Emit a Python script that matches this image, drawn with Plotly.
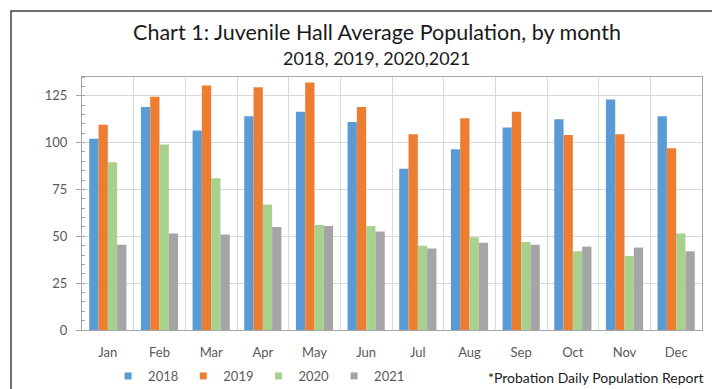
import plotly.graph_objects as go

months = ["Jan", "Feb", "Mar", "Apr", "May", "Jun", "Jul", "Aug", "Sep", "Oct", "Nov", "Dec"]
v2018 = [102, 119, 106.5, 114, 116.5, 111, 86, 96.5, 108, 112.5, 123, 114]
v2019 = [109.5, 124.5, 130.5, 129.5, 132, 119, 104.5, 113, 116.5, 104, 104.5, 97]
v2020 = [89.5, 99, 81, 67, 56, 55.5, 45, 49.5, 47, 42, 39.5, 51.5]
v2021 = [45.5, 51.5, 51, 55, 55.5, 52.5, 43.5, 46.5, 45.5, 44.5, 44, 42]
series = [("2018", v2018, "#5B9BD5"), ("2019", v2019, "#ED7D31"),
          ("2020", v2020, "#A9D18E"), ("2021", v2021, "#A5A5A5")]
yticks = [0, 25, 50, 75, 100, 125]

FONT = "Lato, 'Open Sans', sans-serif"
fig = go.Figure()
for name, vals, col in series:
    fig.add_trace(go.Bar(x=months, y=vals, name=name, marker_color=col,
                         marker_line_width=0, showlegend=False))
# legend entries with small square swatches
for name, vals, col in series:
    fig.add_trace(go.Scatter(x=[None], y=[None], mode="markers", name=name,
                             marker=dict(symbol="square", size=7, color=col)))

fig.update_layout(
    width=712, height=389,
    margin=dict(l=82, r=10, t=77, b=59, autoexpand=False),
    paper_bgcolor="white", plot_bgcolor="white",
    barmode="group", bargap=0.28, bargroupgap=0,
    font=dict(family=FONT, color="#595959", size=13),
    title=dict(
        text="Chart 1: Juvenile Hall Average Population, by month",
        x=377 / 712, xref="container", xanchor="center",
        y=1 - 32 / 389, yref="container", yanchor="middle",
        font=dict(family=FONT, size=21.5, color="#1a1a1a")),
    legend=dict(orientation="h", x=30 / 712, xanchor="left",
                y=1 - 376 / 389, yref="container", yanchor="middle",
                font=dict(size=13, color="#595959"), itemwidth=30,
                traceorder="normal", bgcolor="rgba(0,0,0,0)"),
    showlegend=True,
)
fig.update_xaxes(
    type="category", tickson="boundaries", showgrid=True, gridcolor="#D9D9D9",
    gridwidth=1, showline=True, linecolor="#A6A6A6", linewidth=1, mirror=True,
    ticks="", ticklabelstandoff=10, tickfont=dict(size=13, color="#595959"))
fig.update_yaxes(
    range=[0, 135], tickvals=yticks, showgrid=True, gridcolor="#D9D9D9",
    gridwidth=1, showline=True, linecolor="#A6A6A6", linewidth=1, mirror=True,
    ticks="outside", ticklen=5, tickcolor="#A6A6A6", ticklabelstandoff=6,
    zeroline=False,
    minor=dict(dtick=5, ticks="inside", ticklen=3, tickcolor="#A6A6A6", showgrid=False),
    tickfont=dict(size=13, color="#595959"))

fig.add_annotation(text="2018, 2019, 2020,2021", xref="paper", yref="paper",
                   x=(376 - 82) / 620, y=(330 - 58) / 253, xanchor="center", yanchor="middle",
                   showarrow=False, font=dict(family=FONT, size=17.9, color="#1a1a1a"))
fig.add_annotation(text="*Probation Daily Population Report", xref="paper", yref="paper",
                   x=1.006, y=(330 - 377) / 253, xanchor="right", yanchor="middle", showarrow=False,
                   font=dict(family=FONT, size=14, color="#1a1a1a"))
fig.add_shape(type="rect", xref="paper", yref="paper",
              x0=(11 - 82) / 620, x1=(740 - 82) / 620,
              y0=(330 - 420) / 253, y1=(330 - 11) / 253,
              line=dict(color="#404040", width=1.5), fillcolor="rgba(0,0,0,0)", layer="above")

fig.write_html("out.html")
